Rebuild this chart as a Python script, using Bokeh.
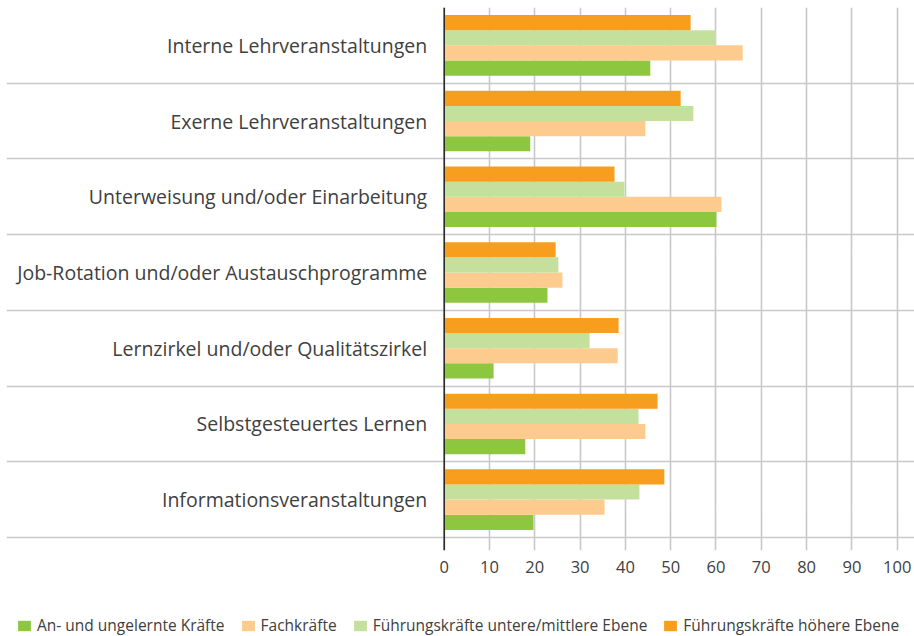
from bokeh.plotting import figure
from bokeh.layouts import column
from bokeh.models import Range1d, FixedTicker, Span, Legend, LegendItem, ColumnDataSource
from bokeh.transform import dodge
from bokeh.core.properties import value
from bokeh.embed import file_html
from bokeh.resources import INLINE

categories = [
    "Interne Lehrveranstaltungen",
    "Exerne Lehrveranstaltungen",
    "Unterweisung und/oder Einarbeitung",
    "Job-Rotation und/oder Austauschprogramme",
    "Lernzirkel und/oder Qualitätszirkel",
    "Selbstgesteuertes Lernen",
    "Informationsveranstaltungen",
]
series_names = [
    "An- und ungelernte Kräfte",
    "Fachkräfte",
    "Führungskräfte untere/mittlere Ebene",
    "Führungskräfte höhere Ebene",
]
an_ungelernt = [45.5, 19.0, 60.1, 22.8, 10.9, 17.9, 19.7]
fachkraefte = [65.9, 44.4, 61.2, 26.1, 38.3, 44.4, 35.4]
fk_unter_mittel = [60.0, 55.0, 39.8, 25.2, 32.1, 42.9, 43.1]
fk_hoeher = [54.4, 52.2, 37.6, 24.6, 38.5, 47.1, 48.6]
x_ticks = [0, 10, 20, 30, 40, 50, 60, 70, 80, 90, 100]

colors = ["#8DC63F", "#FCCB8D", "#C5E09C", "#F79E1E"]
offsets = [-0.3, -0.1, 0.1, 0.3]
series = [an_ungelernt, fachkraefte, fk_unter_mittel, fk_hoeher]

n = len(categories)
ypos = [n - 1 - i + 0.5 for i in range(n)]
data = dict(y=ypos, cat=categories)
for k, s in enumerate(series):
    data["s%d" % k] = s
src = ColumnDataSource(data)

FONT = "Open Sans"
TXT = "#404040"
GRID = "#C8C8CC"

p = figure(width=914, height=590, output_backend="svg", toolbar_location=None,
           x_range=Range1d(-96.62, 103.82), y_range=Range1d(-0.172, 7.0),
           y_axis_location=None, min_border_left=6, min_border_right=0,
           min_border_top=7, min_border_bottom=40)
p.outline_line_color = None
p.ygrid.visible = False
p.xgrid.ticker = FixedTicker(ticks=x_ticks)
p.xgrid.grid_line_color = GRID
p.xgrid.grid_line_width = 1.6

ax = p.xaxis[0]
ax.ticker = FixedTicker(ticks=x_ticks)
ax.axis_line_color = None
ax.major_tick_line_color = None
ax.minor_tick_line_color = None
ax.major_tick_out = 0
ax.major_tick_in = 0
ax.major_label_standoff = 10
ax.major_label_text_font = FONT
ax.major_label_text_font_size = "16.5px"
ax.major_label_text_color = TXT

# category separators
p.hspan(y=list(range(n)), line_color=GRID, line_width=1.6)

for k in range(4):
    p.hbar(y=dodge("y", offsets[k], range=p.y_range), left=0, right="s%d" % k,
           height=0.2, source=src, fill_color=colors[k], line_color=None)

p.add_layout(Span(location=0, dimension="height", line_color="#222222", line_width=1.5))

p.text(x=0, y="y", text="cat", source=src, x_offset=-17, text_align="right",
       text_baseline="middle", text_font=value(FONT), text_font_size="19.5px",
       text_color=TXT)

# legend strip
leg = figure(width=914, height=46, output_backend="svg", toolbar_location=None,
             x_range=Range1d(0, 1), y_range=Range1d(0, 1),
             x_axis_location=None, y_axis_location=None,
             min_border_left=0, min_border_right=0, min_border_top=0, min_border_bottom=0)
leg.outline_line_color = None
leg.xgrid.visible = False
leg.ygrid.visible = False
items = []
for k in range(4):
    r = leg.hbar(y="y", right="s%d" % k, left=0, height=0.2, source=src,
                 fill_color=colors[k], line_color=None, visible=False)
    items.append(LegendItem(label=series_names[k], renderers=[r]))

legend = Legend(items=items, orientation="horizontal", location=(10, 0),
                padding=0, margin=0, spacing=15, label_standoff=5,
                glyph_width=16, glyph_height=13, label_height=13,
                label_text_font=FONT, label_text_font_size="15.5px",
                label_text_color=TXT, background_fill_alpha=0,
                border_line_color=None)
leg.add_layout(legend, "center")

layout = column(p, leg, spacing=0)
open("out.html", "w").write(file_html(layout, INLINE))
